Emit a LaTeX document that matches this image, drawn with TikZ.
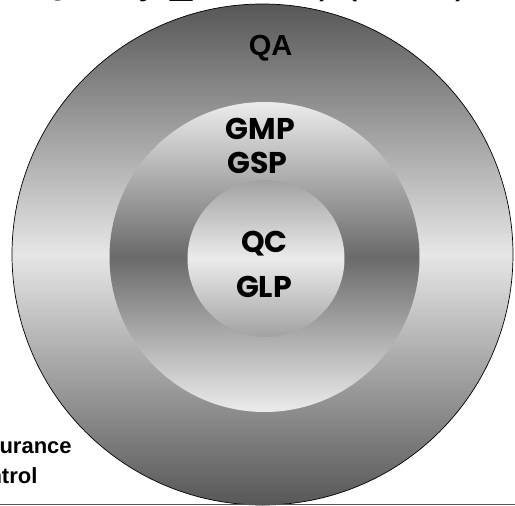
\documentclass[tikz,border=0pt]{standalone}
\usepackage{fontspec}
\setmainfont{Liberation Sans}
\newfontfamily\geo{Poppins}
\definecolor{odark}{HTML}{575757}
\definecolor{olight}{HTML}{E6E6E6}
\definecolor{mlight}{HTML}{ECECEC}
\definecolor{mdark}{HTML}{6A6A6A}
\definecolor{idark}{HTML}{A2A2A2}
\definecolor{ilight}{HTML}{EBEBEB}
\definecolor{rule}{HTML}{555555}
\tikzset{
  ring/.style={circle, inner sep=0pt, outer sep=0pt},
  geolabel/.style={anchor=base, inner sep=0pt, font=\geo\bfseries\fontsize{30}{30}\selectfont},
  arlabel/.style={anchor=base, inner sep=0pt, font=\bfseries\fontsize{29}{29}\selectfont},
  sidelabel/.style={anchor=base west, inner sep=0pt, align=left, font=\bfseries\fontsize{22}{30}\selectfont},
}
\begin{document}
\begin{tikzpicture}[x=1pt,y=-1pt]
\useasboundingbox (0,0) rectangle (515,506);
\begin{scope}
\clip (0,0) rectangle (515,506);
% outer circle
\node[ring, minimum size=501pt, top color=odark, bottom color=odark, middle color=olight,
      draw=black, line width=0.7pt] (outer) at (262.5,254.5) {};
% middle circle
\node[ring, minimum size=310pt, top color=mlight, bottom color=mlight, middle color=mdark] (middle) at (264.5,257) {};
% inner circle
\node[ring, minimum size=157pt, top color=idark, bottom color=idark, middle color=ilight] (inner) at (266,258.5) {};
% labels
\node[arlabel] (qa) at (270.5,55) {QA};
\node[geolabel] (gmp) at (260.5,139) {GMP};
\node[geolabel] (gsp) at (257.5,173) {GSP};
\node[geolabel] (qc) at (264.5,252) {QC};
\node[geolabel] (glp) at (264,297) {GLP};
% side label (cut at the left edge)
\node[sidelabel] (side) at (-41,483) {Assurance\\Control};
% title line, cut at the top edge
\node[anchor=base west, inner sep=0pt, font=\fontsize{40}{40}\selectfont] (title) at (35,-6)
  {Quality \_ Issues) (GxPs)\hspace{22pt}\textbackslash.};
% bottom rule
\coordinate (rl) at (0,504.5);
\coordinate (rr) at (515,504.5);
\draw[rule, line width=1.5pt] (rl) -- (rr);
\end{scope}
\end{tikzpicture}
\end{document}
